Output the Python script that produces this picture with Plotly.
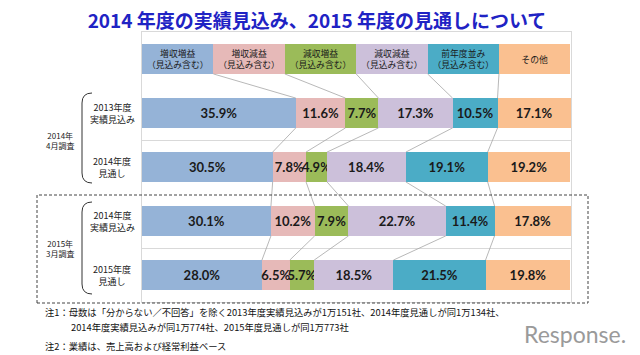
import plotly.graph_objects as go

# ---------------- data ----------------
series_names = ["増収増益", "増収減益", "減収増益", "減収減益", "前年度並み", "その他"]
header_sub = ["（見込み含む）", "（見込み含む）", "（見込み含む）", "（見込み含む）", "（見込み含む）", ""]
row_labels = ["2013年度<br>実績見込み", "2014年度<br>見通し", "2014年度<br>実績見込み", "2015年度<br>見通し"]
survey_labels = ["2014年<br>4月調査", "2015年<br>3月調査"]

zoushu_zoueki = [35.9, 30.5, 30.1, 28.0]   # 増収増益
zoushu_geneki = [11.6, 7.8, 10.2, 6.5]     # 増収減益
genshu_zoueki = [7.7, 4.9, 7.9, 5.7]       # 減収増益
genshu_geneki = [17.3, 18.4, 22.7, 18.5]   # 減収減益
zennendo_nami = [10.5, 19.1, 11.4, 21.5]   # 前年度並み
sonota = [17.1, 19.2, 17.8, 19.8]          # その他

title_text = "2014 年度の実績見込み、2015 年度の見通しについて"
note_lines = [
    "注1：母数は「分からない／不回答」を除く2013年度実績見込みが1万151社、2014年度見通しが同1万134社、",
    "2014年度実績見込みが同1万774社、2015年度見通しが同1万773社",
    "注2：業績は、売上高および経常利益ベース",
]

series_values = [zoushu_zoueki, zoushu_geneki, genshu_zoueki, genshu_geneki, zennendo_nami, sonota]
colors = ["#95B3D7", "#E6B9B8", "#9BBB59", "#CCC0DA", "#4BACC6", "#FAC090"]

# ---------------- layout helpers ----------------
L, R, T, B = 142, 571, 32, 302
W, H = R - L, B - T
def px(xp):
    return (xp - L) / W
def py(yp):
    return (B - yp) / H

BAR_W = 0.553
rows = [1, 2, 3, 4]
HEADER_ROW = 0
CJK = "Noto Sans CJK JP"
X_MAX = 100.15

fig = go.Figure()

# header row (legend-like boxes)
n = len(series_names)
for i in range(n):
    txt = series_names[i] + ("<br>" + header_sub[i] if header_sub[i] else "")
    fig.add_trace(go.Bar(
        y=[HEADER_ROW], x=[100.0 / n], orientation="h", width=BAR_W,
        marker=dict(color=colors[i], line=dict(width=0)),
        text=[txt], textposition="inside", insidetextanchor="middle",
        textangle=0, constraintext="none",
        textfont=dict(family=CJK, size=8.8, color="#1a1a1a"),
        hoverinfo="skip", showlegend=False,
    ))

# data bars
for i in range(n):
    fig.add_trace(go.Bar(
        y=rows, x=series_values[i], orientation="h", width=BAR_W,
        name=series_names[i],
        marker=dict(color=colors[i], line=dict(width=0)),
        texttemplate="<b>%{x:.1f}%</b>", textposition="inside",
        insidetextanchor="middle", textangle=0, constraintext="none",
        textfont=dict(family="Lato", size=13, color="#1a1a1a"),
        cliponaxis=False, showlegend=False,
    ))

# series (connector) lines computed from cumulative sums
cum_rows = []
hdr = [100.0 / n * (k + 1) for k in range(n)]
cum_rows.append(hdr)
for r in range(len(rows)):
    s = 0.0
    c = []
    for i in range(n):
        s += series_values[i][r]
        c.append(s)
    cum_rows.append(c)
positions = [HEADER_ROW] + rows
lx, ly = [], []
for r in range(len(cum_rows) - 1):
    for k in range(n - 1):
        lx += [cum_rows[r][k], cum_rows[r + 1][k], None]
        ly += [positions[r] + BAR_W / 2, positions[r + 1] - BAR_W / 2, None]
fig.add_trace(go.Scatter(x=lx, y=ly, mode="lines",
                         line=dict(color="#a6a6a6", width=0.8),
                         hoverinfo="skip", showlegend=False))

fig.update_layout(
    barmode="stack",
    width=640, height=355,
    margin=dict(l=L, r=640 - R, t=T, b=355 - B),
    paper_bgcolor="white", plot_bgcolor="white",
    xaxis=dict(range=[0, X_MAX], showgrid=False, zeroline=False,
               showticklabels=False, ticks="", showline=True, mirror=True,
               linecolor="#d9d9d9", linewidth=1, fixedrange=True),
    yaxis=dict(range=[4.5, -0.5], showgrid=True, gridcolor="#d9d9d9",
               tickvals=[1.5, 3.5], showticklabels=False, ticks="",
               zeroline=False, showline=True, mirror=True,
               linecolor="#d9d9d9", linewidth=1, fixedrange=True),
    title=dict(text="<b>" + title_text + "</b>", x=317 / 640, y=1 - 21 / 355,
               xanchor="center", yanchor="middle",
               font=dict(family=CJK, size=19, color="#1f23c4")),
    showlegend=False,
)

annotations = []
# row labels
for r, lab in zip(rows, row_labels):
    annotations.append(dict(x=px(112), y=r, xref="paper", yref="y", text=lab,
                            showarrow=False, xanchor="center", yanchor="middle",
                            font=dict(family=CJK, size=9, color="#222222")))
# survey labels
for yy, lab in zip([1.5, 3.5], survey_labels):
    annotations.append(dict(x=px(60), y=yy, xref="paper", yref="y", text=lab,
                            showarrow=False, xanchor="center", yanchor="middle",
                            font=dict(family=CJK, size=8, color="#222222")))
# notes
annotations.append(dict(x=px(43), y=py(312), xref="paper", yref="paper", text=note_lines[0],
                        showarrow=False, xanchor="left", yanchor="middle",
                        font=dict(family=CJK, size=9.3, color="#111111")))
annotations.append(dict(x=px(69), y=py(327), xref="paper", yref="paper", text=note_lines[1],
                        showarrow=False, xanchor="left", yanchor="middle",
                        font=dict(family=CJK, size=9.3, color="#111111")))
annotations.append(dict(x=px(43), y=py(346), xref="paper", yref="paper", text=note_lines[2],
                        showarrow=False, xanchor="left", yanchor="middle",
                        font=dict(family=CJK, size=9.3, color="#111111")))
# watermark
annotations.append(dict(x=px(628), y=py(334), xref="paper", yref="paper", text="Response.",
                        showarrow=False, xanchor="right", yanchor="middle",
                        font=dict(family="Lato", size=23, color="#9a9a9a")))
fig.update_layout(annotations=annotations)

# brackets and dashed box
def brace(top, bot, xl=82, xr=92):
    return (f"M {px(xr)} {py(top)} Q {px(xl)} {py(top)} {px(xl)} {py(top + 10)} "
            f"L {px(xl)} {py(bot - 10)} Q {px(xl)} {py(bot)} {px(xr)} {py(bot)}")

shapes = [
    dict(type="path", xref="paper", yref="paper", path=brace(93, 183),
         line=dict(color="#333333", width=1)),
    dict(type="path", xref="paper", yref="paper", path=brace(202, 294),
         line=dict(color="#333333", width=1)),
    dict(type="rect", xref="paper", yref="paper",
         x0=px(37), x1=px(588), y0=py(303), y1=py(195),
         line=dict(color="#444444", width=1, dash="3px,2px")),
]
fig.update_layout(shapes=shapes)

fig.write_html("out.html", config={"displayModeBar": False},
               post_script="document.body.style.margin='0px';document.body.style.overflow='hidden';")
